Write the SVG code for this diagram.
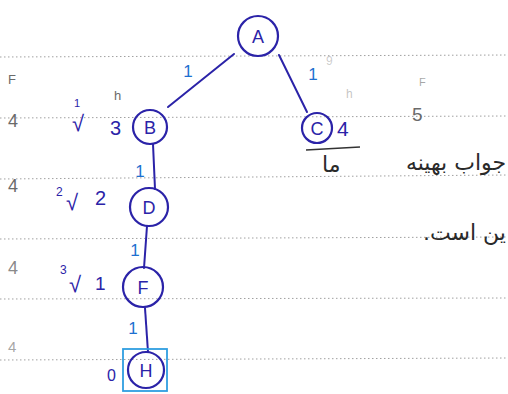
<svg xmlns="http://www.w3.org/2000/svg" width="508" height="394" viewBox="0 0 508 394">
<style>
.rule{stroke:#a0a0a0;stroke-width:1;stroke-dasharray:1.5 2.5;fill:none}
.node circle{fill:none;stroke:#2b23a8;stroke-width:2.2}
.node text{font-family:"Liberation Sans",Arial,sans-serif;font-size:18px;fill:#2b23a8;text-anchor:middle;dominant-baseline:central}
.edge{stroke:#2b23a8;stroke-width:2;fill:none;stroke-linecap:round}
.w{font-family:"Liberation Sans",Arial,sans-serif;fill:#1e6fd0;font-size:17px;text-anchor:middle}
.ink{font-family:"Liberation Sans",Arial,sans-serif;fill:#2b23a8}
.pen{font-family:"Liberation Sans",Arial,sans-serif;fill:#6a6a6a}
.fa{font-family:"DejaVu Sans","Noto Sans",sans-serif;fill:#2a2a2a;font-size:22px}
</style>
<rect width="508" height="394" fill="#ffffff"/>
<g id="rules">
<line class="rule" x1="0" y1="57" x2="508" y2="55"/>
<line class="rule" x1="0" y1="118" x2="508" y2="116"/>
<line class="rule" x1="0" y1="179" x2="508" y2="175"/>
<line class="rule" x1="0" y1="239" x2="508" y2="237"/>
<line class="rule" x1="0" y1="299" x2="508" y2="298"/>
<line class="rule" x1="0" y1="360" x2="508" y2="358"/>
</g>
<g id="connectors">
<line class="edge" x1="234" y1="54" x2="168" y2="107"/>
<line class="edge" x1="279" y1="55" x2="307" y2="112"/>
<line class="edge" x1="153" y1="144" x2="155" y2="189"/>
<line class="edge" x1="147" y1="226" x2="144" y2="268"/>
<line class="edge" x1="145" y1="308" x2="148" y2="352"/>
<text class="w" x="188" y="77">1</text>
<text class="w" x="313" y="80">1</text>
<text class="w" x="140" y="177">1</text>
<text class="w" x="135" y="256">1</text>
<text class="w" x="133" y="334">1</text>
</g>
<g id="node-A" class="node"><circle cx="258" cy="36" r="20"/><text x="258" y="37">A</text></g>
<g id="node-B" class="node"><circle cx="150" cy="127" r="17"/><text x="150" y="128">B</text></g>
<g id="node-C" class="node"><circle cx="317" cy="128" r="15"/><text x="317" y="129">C</text></g>
<g id="node-D" class="node"><circle cx="149" cy="207" r="19"/><text x="149" y="208">D</text></g>
<g id="node-F" class="node"><circle cx="143" cy="287" r="20"/><text x="143" y="288">F</text></g>
<g id="node-H" class="node"><rect x="123" y="349" width="44" height="42" fill="none" stroke="#2f9ee0" stroke-width="1.8"/><circle cx="146" cy="370" r="18"/><text x="146" y="371">H</text></g>
<g id="annotations">
<text class="pen" x="8" y="84" font-size="13">F</text>
<text class="pen" x="8" y="127" font-size="18">4</text>
<text class="pen" x="8" y="192" font-size="18">4</text>
<text class="pen" x="8" y="274" font-size="18" fill-opacity="0.8">4</text>
<text class="pen" x="8" y="352" font-size="15" fill-opacity="0.6">4</text>
<text class="pen" x="114" y="100" font-size="13">h</text>
<text class="pen" x="326" y="65" font-size="12" fill-opacity="0.35">9</text>
<text class="pen" x="346" y="98" font-size="12" fill-opacity="0.4">h</text>
<text class="pen" x="419" y="86" font-size="11" fill-opacity="0.6">F</text>
<text class="pen" x="412" y="121" font-size="19" fill="#444">5</text>
<text class="ink" x="74" y="107" font-size="11">1</text>
<text class="ink" x="72" y="131" font-size="22">√</text>
<text class="ink" x="110" y="135" font-size="20">3</text>
<text class="ink" x="56" y="196" font-size="12">2</text>
<text class="ink" x="66" y="210" font-size="22">√</text>
<text class="ink" x="95" y="205" font-size="20">2</text>
<text class="ink" x="60" y="274" font-size="12">3</text>
<text class="ink" x="69" y="292" font-size="22">√</text>
<text class="ink" x="95" y="290" font-size="19">1</text>
<text class="ink" x="107" y="381" font-size="16">0</text>
<text class="ink" x="337" y="136" font-size="21">4</text>
<line x1="306" y1="150" x2="360" y2="147" stroke="#333" stroke-width="1.5"/>
<text class="fa" x="322" y="172">ما</text>
<text class="fa" x="506" y="170" direction="rtl" text-anchor="start">جواب بهینه</text>
<text class="fa" x="506" y="240" direction="rtl" text-anchor="start">ین است.</text>
</g>
</svg>
